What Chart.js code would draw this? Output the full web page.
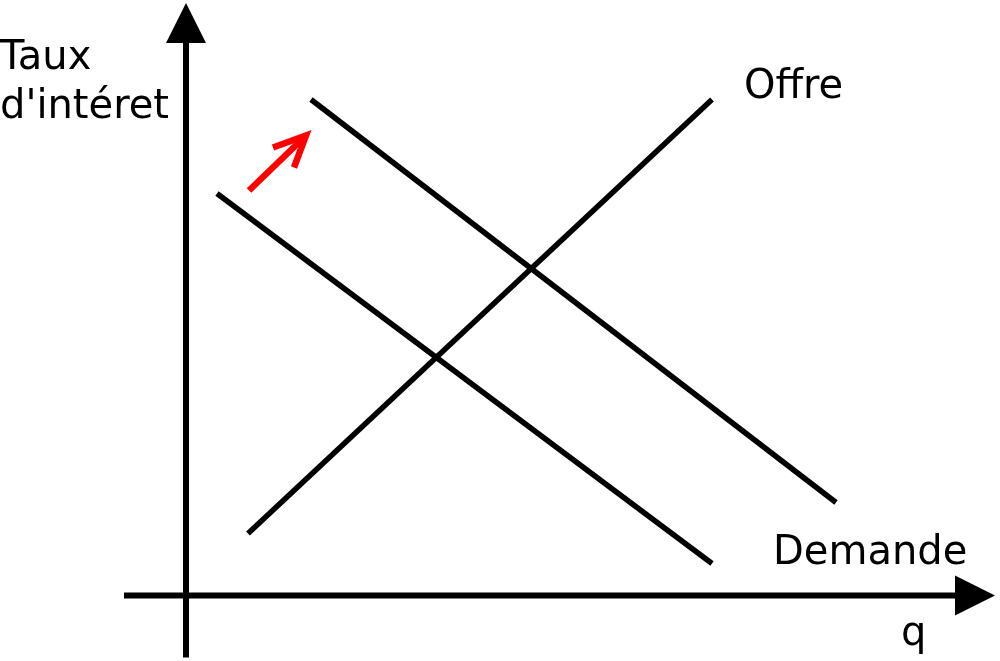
<!DOCTYPE html>
<html>
<head>
<meta charset="utf-8">
<script src="https://cdn.jsdelivr.net/npm/chart.js@4/dist/chart.umd.min.js"></script>
<style>
  html, body { margin: 0; padding: 0; background: #fff; }
  #wrap { width: 1000px; height: 661px; }
</style>
</head>
<body>
<div id="wrap"><canvas id="myChart"></canvas></div>
<script>
// courbes (unites arbitraires, origine = croisement des axes)
const offre = [{x: 6.2, y: 6.2}, {x: 52.6, y: 49.6}];
const demande1 = [{x: 3.1, y: 40.2}, {x: 52.6, y: 3.2}];
const demande2 = [{x: 12.5, y: 49.6}, {x: 65.0, y: 9.3}];

// fleche rouge (deplacement de la demande)
const flecheTige = [{x: 6.3, y: 40.5}, {x: 12.0, y: 46.0}];
const flecheTete = [{x: 8.7, y: 44.8}, {x: 12.0, y: 46.0}, {x: 10.8, y: 42.8}];

// axes
const axeY = [{x: 0, y: -6.2}, {x: 0, y: 55.5}];
const axeX = [{x: -6.2, y: 0}, {x: 77.0, y: 0}];
const pointeY = [{x: -2, y: 55.25}, {x: 0, y: 59.25}, {x: 2, y: 55.25}];
const pointeX = [{x: 76.9, y: 2}, {x: 80.9, y: 0}, {x: 76.9, y: -2}];

// textes
const labels = [
    {text: 'Taux', x: -18.6, y: 52.65},
    {text: "d'intéret", x: -18.6, y: 47.75},
    {text: 'Offre', x: 55.8, y: 49.75},
    {text: 'Demande', x: 58.7, y: 3.15},
    {text: 'q', x: 71.5, y: -4.95}
];

const font = '40px "DejaVu Sans"';

function ligne(data, color, width) {
    return {
        data: data,
        borderColor: color,
        borderWidth: width,
        pointRadius: 0,
        showLine: true,
        fill: false,
        tension: 0,
        borderCapStyle: 'butt',
        borderJoinStyle: 'miter'
    };
}

const dessinPlugin = {
    id: 'dessin',
    afterDatasetsDraw(chart) {
        const ctx = chart.ctx;
        const xs = chart.scales.x;
        const ys = chart.scales.y;
        ctx.save();
        ctx.fillStyle = '#000';
        [pointeY, pointeX].forEach(p => {
            ctx.beginPath();
            p.forEach((pt, i) => {
                const px = xs.getPixelForValue(pt.x);
                const py = ys.getPixelForValue(pt.y);
                if (i === 0) ctx.moveTo(px, py); else ctx.lineTo(px, py);
            });
            ctx.closePath();
            ctx.fill();
        });
        ctx.font = font;
        ctx.textBaseline = 'alphabetic';
        ctx.textAlign = 'left';
        labels.forEach(l => {
            ctx.fillText(l.text, xs.getPixelForValue(l.x), ys.getPixelForValue(l.y));
        });
        ctx.restore();
    }
};

const ctx = document.getElementById('myChart').getContext('2d');
const myChart = new Chart(ctx, {
    type: 'scatter',
    data: {
        datasets: [
            ligne(axeY, '#000', 6),
            ligne(axeX, '#000', 6),
            ligne(offre, '#000', 5.5),
            ligne(demande1, '#000', 5.5),
            ligne(demande2, '#000', 5.5),
            ligne(flecheTige, '#ff0000', 6.5),
            ligne(flecheTete, '#ff0000', 6.5)
        ]
    },
    options: {
        responsive: true,
        maintainAspectRatio: false,
        animation: false,
        layout: { padding: 0 },
        plugins: {
            legend: { display: false },
            tooltip: { enabled: false }
        },
        scales: {
            x: { type: 'linear', min: -18.6, max: 81.4, display: false },
            y: { type: 'linear', min: -6.55, max: 59.55, display: false }
        }
    },
    plugins: [dessinPlugin]
});
</script>
</body>
</html>
